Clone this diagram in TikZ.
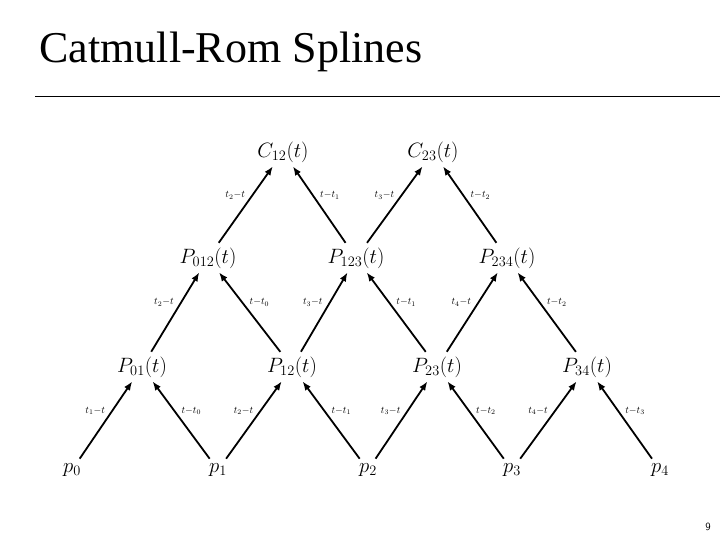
\documentclass[tikz,border=0pt]{standalone}
\usepackage{fontspec}
\setmainfont{Liberation Serif}
\usepackage{tikz}
\usetikzlibrary{arrows.meta}
\begin{document}
\begin{tikzpicture}[x=1pt,y=-1pt,
    pt/.style={font=\fontsize{22}{24}\selectfont, inner sep=3pt},
    up/.style={-{Latex[length=9pt,width=7pt]}, line width=1.8pt, shorten <=2pt, shorten >=1pt},
    wl/.style={font=\fontsize{10}{12}\selectfont, pos=0.62, left=3pt},
    wr/.style={font=\fontsize{10}{12}\selectfont, pos=0.62, right=3pt}]
    \useasboundingbox (0,0) rectangle (720,540);
    \node[anchor=west, font=\fontsize{44}{48}\selectfont] (title) at (36,52) {Catmull-Rom Splines};
    \draw[line width=0.6pt] (35,96) -- (720,96);
    \node[font=\fontsize{11}{12}\selectfont\sffamily] (page) at (708,527) {9};
    % control points
    \node[pt] (p0) at (72,470) {$p_0$};
    \node[pt] (p1) at (218,470) {$p_1$};
    \node[pt] (p2) at (368,470) {$p_2$};
    \node[pt] (p3) at (512,470) {$p_3$};
    \node[pt] (p4) at (660,470) {$p_4$};
    % first level
    \node[pt] (P01) at (142,367) {$P_{01}(t)$};
    \node[pt] (P12) at (292,367) {$P_{12}(t)$};
    \node[pt] (P23) at (437,367) {$P_{23}(t)$};
    \node[pt] (P34) at (587,367) {$P_{34}(t)$};
    % second level
    \node[pt] (P012) at (208,258) {$P_{012}(t)$};
    \node[pt] (P123) at (356,258) {$P_{123}(t)$};
    \node[pt] (P234) at (507,258) {$P_{234}(t)$};
    % curves
    \node[pt] (C12) at (283,152) {$C_{12}(t)$};
    \node[pt] (C23) at (433,152) {$C_{23}(t)$};
    \draw[up] (p0) -- (P01) node[wl] {$t_1{-}t$};
    \draw[up] (p1) -- (P01) node[wr] {$t{-}t_0$};
    \draw[up] (p1) -- (P12) node[wl] {$t_2{-}t$};
    \draw[up] (p2) -- (P12) node[wr] {$t{-}t_1$};
    \draw[up] (p2) -- (P23) node[wl] {$t_3{-}t$};
    \draw[up] (p3) -- (P23) node[wr] {$t{-}t_2$};
    \draw[up] (p3) -- (P34) node[wl] {$t_4{-}t$};
    \draw[up] (p4) -- (P34) node[wr] {$t{-}t_3$};
    \draw[up] (P01) -- (P012) node[wl] {$t_2{-}t$};
    \draw[up] (P12) -- (P012) node[wr] {$t{-}t_0$};
    \draw[up] (P12) -- (P123) node[wl] {$t_3{-}t$};
    \draw[up] (P23) -- (P123) node[wr] {$t{-}t_1$};
    \draw[up] (P23) -- (P234) node[wl] {$t_4{-}t$};
    \draw[up] (P34) -- (P234) node[wr] {$t{-}t_2$};
    \draw[up] (P012) -- (C12) node[wl] {$t_2{-}t$};
    \draw[up] (P123) -- (C12) node[wr] {$t{-}t_1$};
    \draw[up] (P123) -- (C23) node[wl] {$t_3{-}t$};
    \draw[up] (P234) -- (C23) node[wr] {$t{-}t_2$};
\end{tikzpicture}
\end{document}
